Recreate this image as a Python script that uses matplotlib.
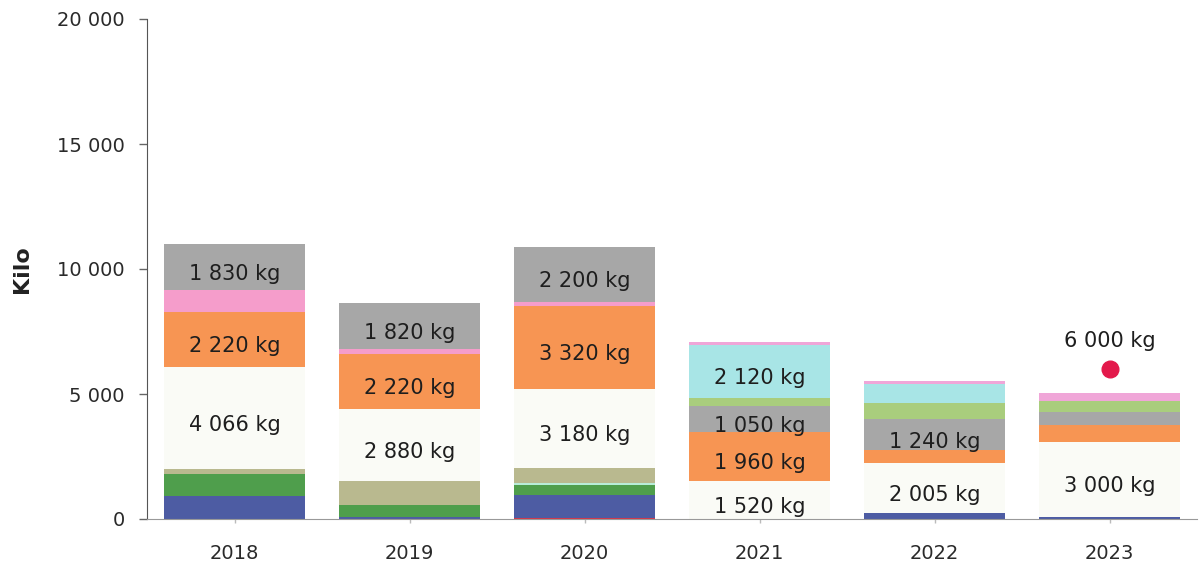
import matplotlib.pyplot as plt
import numpy as np
from matplotlib.ticker import FuncFormatter

# --- data (kg), stacked bottom -> top ---
years = ["2018", "2019", "2020", "2021", "2022", "2023"]

red_seg = [0, 0, 50, 0, 0, 0]
blue_seg = [930, 100, 930, 0, 250, 100]
green_seg = [880, 470, 400, 0, 0, 0]
cyan_line_seg = [0, 0, 50, 0, 0, 0]
tan_seg = [200, 950, 600, 0, 0, 0]
white_seg = [4066, 2880, 3180, 1520, 2005, 3000]
orange_seg = [2220, 2220, 3320, 1960, 490, 670]
pink_low_seg = [870, 200, 150, 0, 0, 0]
gray_seg = [1830, 1820, 2200, 1050, 1240, 500]
lime_seg = [0, 0, 0, 320, 640, 470]
cyan_seg = [0, 0, 0, 2120, 760, 0]
pink_top_seg = [0, 0, 0, 120, 150, 300]

target_year = "2023"
target_value = 6000

series = [
    ("red", red_seg, "#d2354a"),
    ("blue", blue_seg, "#4d5ca3"),
    ("green", green_seg, "#4f9e4c"),
    ("cyan_line", cyan_line_seg, "#b8ecd8"),
    ("tan", tan_seg, "#b9b98f"),
    ("white", white_seg, "#fafbf6"),
    ("orange", orange_seg, "#f79553"),
    ("pink_low", pink_low_seg, "#f59dcb"),
    ("gray", gray_seg, "#a7a7a7"),
    ("lime", lime_seg, "#a9cd7d"),
    ("cyan", cyan_seg, "#a8e5e6"),
    ("pink_top", pink_top_seg, "#f0a6d8"),
]

# which segments carry a value label
labelled = {
    "white": [True] * 6,
    "orange": [True, True, True, True, False, False],
    "gray": [True, True, True, True, True, False],
    "cyan": [False, False, False, True, False, False],
}


def fmt_kg(v):
    return f"{v:,}".replace(",", " ")


fig = plt.figure(figsize=(11.99, 5.69), dpi=100)
ax = fig.add_axes([147 / 1199, 50 / 569, 1050 / 1199, 500 / 569])

x = np.arange(len(years))
bottom = np.zeros(len(years))
for name, vals, color in series:
    vals = np.array(vals, dtype=float)
    ax.bar(x, vals, bottom=bottom, width=0.81, color=color, linewidth=0)
    if name in labelled:
        for i, show in enumerate(labelled[name]):
            if show and vals[i] > 0:
                ax.annotate(f"{fmt_kg(int(vals[i]))} kg", (x[i], bottom[i] + vals[i] / 2),
                            xytext=(0, -5), textcoords="offset points",
                            ha="center", va="center", fontsize=15, color="#1e1e1e")
    bottom += vals

# target marker
ti = years.index(target_year)
ax.plot(x[ti], target_value, "o", color="#e3194b", markersize=12, zorder=5)
ax.annotate(f"{fmt_kg(target_value)} kg", (x[ti], target_value), xytext=(0, 20),
            textcoords="offset points", ha="center", va="center",
            fontsize=15, color="#1e1e1e")

ax.set_xlim(-0.5, len(years) - 0.5)
ax.set_ylim(0, 20000)
ax.set_yticks([0, 5000, 10000, 15000, 20000])
ax.yaxis.set_major_formatter(FuncFormatter(lambda v, p: fmt_kg(int(v))))
ax.set_xticks(x)
ax.set_xticklabels(years)

ax.spines["top"].set_visible(False)
ax.spines["right"].set_visible(False)
ax.spines["left"].set_color("#555555")
ax.spines["bottom"].set_color("#999999")
ax.tick_params(axis="y", length=6, width=1, color="#666666", pad=10,
               labelsize=14, labelcolor="#2a2a2a")
ax.tick_params(axis="x", length=3, width=1, color="#bbbbbb", pad=15,
               labelsize=14, labelcolor="#2a2a2a")
ax.set_ylabel("Kilo", fontsize=16, fontweight="bold", color="#222222", labelpad=18)

fig.savefig("out.png", dpi=100)
